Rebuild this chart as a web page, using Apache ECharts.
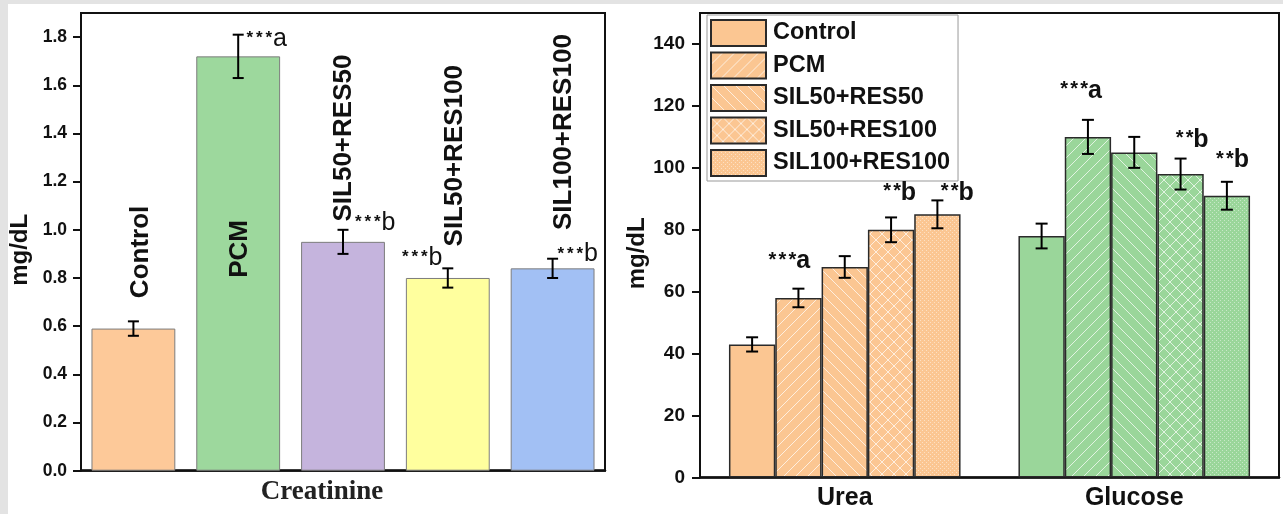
<!DOCTYPE html>
<html><head><meta charset="utf-8">
<script src="https://cdn.jsdelivr.net/npm/echarts@6/dist/echarts.min.js"></script>
<style>
html,body{margin:0;padding:0;background:#e3e3e3;width:1283px;height:514px;overflow:hidden;}
#paper{position:absolute;left:8px;top:4px;width:1275px;height:510px;background:#fff;}
#c{position:absolute;left:0;top:0;width:1283px;height:514px;}
</style></head><body><div id="paper"></div><div id="c"></div>
<script>
// ---------- data ----------
const groups = ['Control', 'PCM', 'SIL50+RES50', 'SIL50+RES100', 'SIL100+RES100'];
const creatinine = [0.59, 1.72, 0.95, 0.80, 0.84];
const creatinineErr = [0.03, 0.09, 0.05, 0.04, 0.04];
const creatinineSig = ['', '***a', '***b', '***b', '***b'];
const leftTicks = [0, 0.2, 0.4, 0.6, 0.8, 1.0, 1.2, 1.4, 1.6, 1.8];

const rightCats = ['Urea', 'Glucose'];
const urea = [43, 58, 68, 80, 85];
const ureaErr = [2.3, 3, 3.5, 4, 4.5];
const ureaSig = ['', '***a', '', '**b', '**b'];
const glucose = [78, 110, 105, 98, 91];
const glucoseErr = [4, 5.5, 5, 5, 4.5];
const glucoseSig = ['', '***a', '', '**b', '**b'];
const rightTicks = [0, 20, 40, 60, 80, 100, 120, 140];

// ---------- styles / layout ----------
const SANS = 'Arial, "Liberation Sans", Helvetica, sans-serif';
const SERIF = '"Times New Roman", "Liberation Serif", serif';
const INK = '#111';
const leftColors = ['#FDC999', '#9DD89D', '#C5B4DD', '#FFFF9E', '#A2C0F4'];
const ORANGE = '#FBC692', GREEN = '#9AD69A';
const kinds = ['solid', 'fwd', 'back', 'cross', 'dots'];
// pixel offsets of annotations relative to the error-bar top
const leftNameOffset = [[7.6, -23.2], [1.8, 243.1], [1, -8.3], [7.2, -21.9], [10.9, -28.7]];
const leftSigOffset = [null, [34.8, 12.8], [38.5, 1.7], [-19.3, -1.9], [31.4, 4.3]];
const ureaSigOffset = [null, [-2.25, -18.7], null, [9.75, -15.8], [21, 1.3]];
const glucoseSigOffset = [null, [0, -20], null, [12.75, -10.3], [6.75, -12.8]];

function pattern(base, kind) {
  if (kind === 'solid') return base;
  const s = kind === 'dots' ? 4 : 12;
  const c = document.createElement('canvas');
  c.width = s; c.height = s;
  const g = c.getContext('2d');
  g.fillStyle = base; g.fillRect(0, 0, s, s);
  g.strokeStyle = 'rgba(255,255,255,0.7)'; g.lineWidth = 1;
  if (kind === 'fwd' || kind === 'cross') {
    g.beginPath();
    g.moveTo(-2, s + 2); g.lineTo(s + 2, -2);
    g.moveTo(-2, 2); g.lineTo(2, -2);
    g.moveTo(s - 2, s + 2); g.lineTo(s + 2, s - 2);
    g.stroke();
  }
  if (kind === 'back' || kind === 'cross') {
    g.beginPath();
    g.moveTo(-2, -2); g.lineTo(s + 2, s + 2);
    g.moveTo(s - 2, -2); g.lineTo(s + 2, 2);
    g.moveTo(-2, s - 2); g.lineTo(2, s + 2);
    g.stroke();
  }
  if (kind === 'dots') {
    g.fillStyle = 'rgba(255,255,255,0.45)';
    g.fillRect(0, 0, 1, 1); g.fillRect(2, 2, 1, 1);
  }
  return { image: c, repeat: 'repeat' };
}

function errorBar(x, yTop, yBot, half) {
  const ls = { stroke: '#000', lineWidth: 2 };
  return {
    type: 'group', children: [
      { type: 'line', shape: { x1: x, y1: yTop, x2: x, y2: yBot }, style: ls },
      { type: 'line', shape: { x1: x - half, y1: yTop, x2: x + half, y2: yTop }, style: ls },
      { type: 'line', shape: { x1: x - half, y1: yBot, x2: x + half, y2: yBot }, style: ls }
    ]
  };
}

// x = boundary between stars and letter, y = baseline of letter
function sigEls(x, y, sig, bold, fsL, fsS, adv) {
  const letter = sig.slice(-1), stars = sig.slice(0, -1);
  const els = [{
    type: 'text', x: x, y: y - 0.3465 * fsL,
    style: { text: letter, fontSize: fsL, fontWeight: bold ? 'bold' : 'normal', fontFamily: SANS, fill: INK, align: 'left', verticalAlign: 'middle' }
  }];
  const n = stars.length;
  for (let k = 0; k < n; k++) {
    els.push({
      type: 'text', x: x - 7.6 - (n - 1 - k) * adv, y: y - 3 - 0.3465 * fsS,
      style: { text: '*', fontSize: fsS, fontWeight: 'bold', fontFamily: SANS, fill: INK, align: 'left', verticalAlign: 'middle' }
    });
  }
  return els;
}

const chart = echarts.init(document.getElementById('c'), null, { renderer: 'canvas' });

// annotation lists for the right chart
const rightSig = [];
groups.forEach((g, i) => {
  if (ureaSig[i]) rightSig.push({ c: 0, si: i, top: urea[i] + ureaErr[i], text: ureaSig[i], off: ureaSigOffset[i] });
  if (glucoseSig[i]) rightSig.push({ c: 1, si: i, top: glucose[i] + glucoseErr[i], text: glucoseSig[i], off: glucoseSigOffset[i] });
});

const series = [];
// left bars
series.push({
  type: 'bar', xAxisIndex: 0, yAxisIndex: 0, barWidth: '80%',
  itemStyle: { borderColor: '#7d7d7d', borderWidth: 1 },
  data: creatinine.map((v, i) => ({ value: v, itemStyle: { color: leftColors[i] } })),
  z: 2
});
// left error bars
series.push({
  type: 'custom', xAxisIndex: 0, yAxisIndex: 0, silent: true, z: 5,
  data: creatinine.map((v, i) => [i, v, creatinineErr[i]]),
  renderItem: (params, api) => {
    const i = api.value(0), v = api.value(1), e = api.value(2);
    const t = api.coord([i, v + e]), b = api.coord([i, v - e]);
    return errorBar(t[0], t[1], b[1], 5.5);
  }
});
// left rotated names + significance
series.push({
  type: 'custom', xAxisIndex: 0, yAxisIndex: 0, silent: true, z: 10,
  data: creatinine.map((v, i) => [i, v + creatinineErr[i]]),
  renderItem: (params, api) => {
    const i = params.dataIndex;
    const p = api.coord([api.value(0), api.value(1)]);
    const o = leftNameOffset[i];
    const children = [{
      type: 'text', x: p[0] + o[0], y: p[1] + o[1], rotation: Math.PI / 2,
      style: { text: groups[i], fontSize: 26, fontWeight: 'bold', fontFamily: SANS, fill: INK, align: 'left', verticalAlign: 'middle' }
    }];
    if (creatinineSig[i]) {
      const so = leftSigOffset[i];
      children.push(...sigEls(p[0] + so[0], p[1] + so[1], creatinineSig[i], false, 25, 17, 9.5));
    }
    return { type: 'group', children };
  }
});
// right bars
groups.forEach((g, i) => {
  series.push({
    type: 'bar', name: g, xAxisIndex: 1, yAxisIndex: 1,
    barGap: '0%', barCategoryGap: '20%',
    itemStyle: { color: pattern(ORANGE, kinds[i]), borderColor: '#2a2a2a', borderWidth: 1.5 },
    data: [urea[i], { value: glucose[i], itemStyle: { color: pattern(GREEN, kinds[i]) } }],
    z: 2
  });
});
// right error bars
const rightErrData = [];
groups.forEach((g, i) => {
  rightErrData.push([0, urea[i], ureaErr[i], i]);
  rightErrData.push([1, glucose[i], glucoseErr[i], i]);
});
series.push({
  type: 'custom', xAxisIndex: 1, yAxisIndex: 1, silent: true, z: 5,
  data: rightErrData,
  renderItem: (params, api) => {
    const c = api.value(0), v = api.value(1), e = api.value(2), si = api.value(3);
    const bw = api.size([1, 0])[0] * 0.8 / groups.length;
    const t = api.coord([c, v + e]), b = api.coord([c, v - e]);
    const x = t[0] + (si - (groups.length - 1) / 2) * bw;
    return errorBar(x, t[1], b[1], 6);
  }
});
// right significance
series.push({
  type: 'custom', xAxisIndex: 1, yAxisIndex: 1, silent: true, z: 10,
  data: rightSig.map(s => [s.c, s.top, s.si]),
  renderItem: (params, api) => {
    const s = rightSig[params.dataIndex];
    const bw = api.size([1, 0])[0] * 0.8 / groups.length;
    const p = api.coord([api.value(0), api.value(1)]);
    const x = p[0] + (s.si - (groups.length - 1) / 2) * bw;
    return { type: 'group', children: sigEls(x + s.off[0], p[1] + s.off[1], s.text, true, 25, 20, 10) };
  }
});

const axisLineStyle = { color: INK, width: 2 };
chart.setOption({
  animation: false,
  backgroundColor: 'transparent',
  grid: [
    { left: 81, top: 13, width: 524, height: 457.7, show: true, borderColor: INK, borderWidth: 2, backgroundColor: 'transparent' },
    { left: 700, top: 13, width: 579, height: 464.6, show: true, borderColor: INK, borderWidth: 2, backgroundColor: 'transparent' }
  ],
  legend: {
    orient: 'vertical', left: 707, top: 15, itemWidth: 55, itemHeight: 26, itemGap: 4.5,
    padding: [4, 8, 4, 3], backgroundColor: '#fff', borderColor: '#999', borderWidth: 1,
    selectedMode: false, icon: 'rect',
    textStyle: { fontSize: 23.5, fontWeight: 'bold', fontFamily: SANS, color: INK, lineHeight: 26, padding: [0, 0, 0, 2] },
    data: groups
  },
  xAxis: [
    {
      gridIndex: 0, type: 'category', data: groups,
      axisLabel: { show: false }, axisTick: { show: false },
      axisLine: { lineStyle: { color: INK, width: 2.5 } },
      name: 'Creatinine', nameLocation: 'middle', nameGap: 8,
      nameTextStyle: { fontFamily: SERIF, fontWeight: 'bold', fontSize: 27, color: '#222', padding: [0, 42, 0, 0] }
    },
    {
      gridIndex: 1, type: 'category', data: rightCats,
      axisTick: { show: false },
      axisLine: { lineStyle: { color: INK, width: 2.5 } },
      axisLabel: { fontSize: 25, fontWeight: 'bold', fontFamily: SANS, color: INK, margin: 8 }
    }
  ],
  yAxis: [
    {
      gridIndex: 0, type: 'value', min: 0, max: 1.9,
      splitLine: { show: false },
      axisLine: { show: true, lineStyle: axisLineStyle },
      axisTick: { show: true, length: 8, lineStyle: { color: INK, width: 2 }, customValues: leftTicks },
      axisLabel: { fontSize: 17.5, fontWeight: 'bold', fontFamily: SANS, color: INK, margin: 14, customValues: leftTicks, formatter: v => v.toFixed(1) },
      name: 'mg/dL', nameLocation: 'middle', nameRotate: 90, nameGap: 49,
      nameTextStyle: { fontSize: 24, fontWeight: 'bold', fontFamily: SANS, color: INK, padding: [0, 16, 0, 0] }
    },
    {
      gridIndex: 1, type: 'value', min: 0, max: 150,
      splitLine: { show: false },
      axisLine: { show: true, lineStyle: axisLineStyle },
      axisTick: { show: true, length: 8, lineStyle: { color: INK, width: 2 }, customValues: rightTicks },
      axisLabel: { fontSize: 19, fontWeight: 'bold', fontFamily: SANS, color: INK, margin: 15, customValues: rightTicks },
      name: 'mg/dL', nameLocation: 'middle', nameRotate: 90, nameGap: 33,
      nameTextStyle: { fontSize: 24, fontWeight: 'bold', fontFamily: SANS, color: INK, padding: [0, 16, 0, 0] }
    }
  ],
  series
});
</script>
</body></html>
